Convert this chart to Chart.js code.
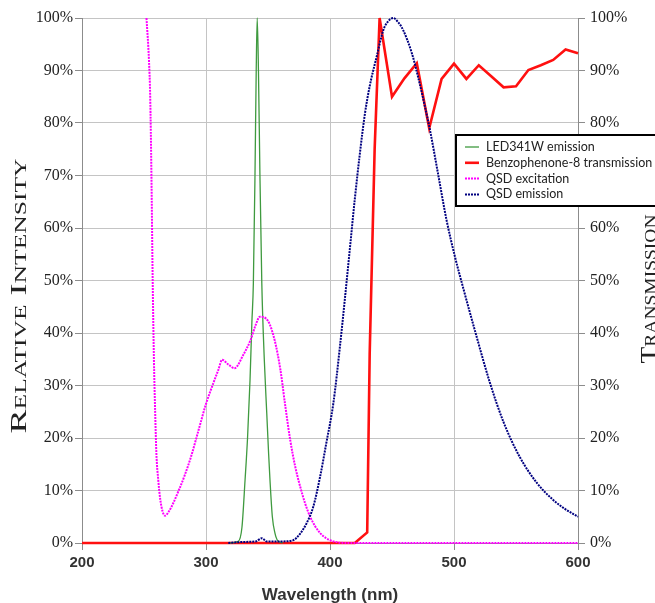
<!DOCTYPE html>
<html>
<head>
<meta charset="utf-8">
<script src="https://cdn.jsdelivr.net/npm/chart.js@4.4.0/dist/chart.umd.min.js"></script>
<style>
  body { margin: 0; background: #fff; }
  canvas { display: block; }
</style>
</head>
<body>
<canvas id="spectra" width="655" height="603"></canvas>
<script>
// LED341W emission (nm, % relative intensity)
const ledNm = [319, 326, 329, 331.5, 333.5, 335.5, 337, 338.2, 339.5, 340.5, 341.3, 342.3, 343.5, 345, 347, 349, 350.5, 351.6, 353.5, 355.6, 358, 362];
const ledPct = [0, 0.3, 3, 12, 20, 31, 42, 49.5, 70, 90, 100, 90, 70, 49.5, 35, 24.7, 17, 12, 5, 1.9, 0.4, 0];

// Benzophenone-8 transmission (nm, % transmission)
const bzpNm = [200, 420, 430, 432, 436, 440, 450, 460, 470, 480, 490, 500, 510, 520, 530, 540, 550, 560, 570, 580, 590, 600];
const bzpPct = [0, 0, 2, 36, 75, 100, 85, 88.5, 91.4, 79, 88.4, 91.3, 88.4, 91, 88.9, 86.8, 87, 90.1, 91, 92, 94, 93.3];

// QSD excitation
const excNm = [252, 254, 255, 256, 257, 258, 259, 260, 261.5, 263, 265, 267, 270, 274, 278, 283, 288, 294, 300, 306, 310, 313, 318, 323, 330, 336, 340, 343.5, 350, 355.5, 360, 364, 368, 372, 376, 380, 384, 388, 392, 397, 403, 413, 600];
const excPct = [100, 92, 85, 70, 50, 35, 25, 17, 12, 8.5, 6, 5.2, 6, 7.8, 10, 13, 16.5, 21.5, 26.5, 30.5, 33, 34.9, 34, 33.3, 35.8, 38.7, 41.5, 43.1, 42.3, 38.5, 33, 26, 19.5, 14.5, 10.7, 7.5, 5, 3.2, 1.9, 0.9, 0.3, 0, 0];

// QSD emission
const emNm = [318, 330, 340, 345, 349, 360, 370, 376, 381, 386.5, 392, 397, 402.7, 408, 412, 416, 420, 424, 428, 432, 437.6, 443, 447, 451, 455, 459, 466, 471, 476.6, 480.6, 487, 494, 500.8, 507.5, 518, 529, 540, 553, 567, 580, 590, 600];
const emPct = [0, 0.2, 0.3, 0.9, 0.3, 0.3, 0.5, 1.8, 3.7, 6.9, 12.6, 19, 26.6, 37.4, 46.5, 56, 65.5, 74, 81.5, 87, 92.6, 97.7, 99.4, 100, 99.2, 97.7, 93.3, 88.8, 83.1, 78.7, 70.5, 61.5, 54.5, 48.5, 39.5, 30.5, 23, 16.4, 11.4, 8.2, 6.4, 5];

const yTicks = [0, 10, 20, 30, 40, 50, 60, 70, 80, 90, 100];

function pairs(xs, ys) {
  return xs.map((x, i) => ({ x: x, y: ys[i] }));
}

// rotated small-caps titles on both sides, stretched to the length of the axis label
function sideTitle(ctx, text, baseX, midY, span) {
  ctx.save();
  ctx.font = 'small-caps 24px "Liberation Serif"';
  const w = ctx.measureText(text).width;
  ctx.translate(baseX, midY);
  ctx.rotate(-Math.PI / 2);
  ctx.scale(span / w, 1);
  ctx.textAlign = 'center';
  ctx.textBaseline = 'alphabetic';
  ctx.fillStyle = '#222';
  ctx.fillText(text, 0, 0);
  ctx.restore();
}

const sideTitles = {
  id: 'sideTitles',
  afterDraw(chart) {
    sideTitle(chart.ctx, 'Relative Intensity', 26, 296, 275);
    sideTitle(chart.ctx, 'Transmission', 656, 289, 149);
  }
};

// boxed legend sitting over the right axis
const boxLegend = {
  id: 'boxLegend',
  afterDraw(chart) {
    const ctx = chart.ctx;
    ctx.save();
    ctx.fillStyle = '#fff';
    ctx.fillRect(456, 135, 210, 71);
    ctx.strokeStyle = '#000';
    ctx.lineWidth = 2;
    ctx.strokeRect(456, 135, 210, 71);
    ctx.font = '12.5px Lato';
    ctx.textBaseline = 'middle';
    chart.data.datasets.forEach((ds, i) => {
      const y = 147 + i * 15.8;
      ctx.beginPath();
      ctx.strokeStyle = ds.borderColor;
      ctx.lineWidth = ds.borderWidth;
      ctx.setLineDash(ds.borderDash || []);
      ctx.moveTo(465, y);
      ctx.lineTo(479, y);
      ctx.stroke();
      ctx.setLineDash([]);
      ctx.fillStyle = '#222';
      ctx.fillText(ds.label, 486, y);
    });
    ctx.restore();
  }
};

const gridColor = '#c4c4c4';
const axisColor = '#8c8c8c';

new Chart(document.getElementById('spectra'), {
  type: 'line',
  data: {
    datasets: [
      { label: 'LED341W emission', data: pairs(ledNm, ledPct), borderColor: '#3f9a3f', borderWidth: 1.3,
        yAxisID: 'y', order: 3, cubicInterpolationMode: 'monotone' },
      { label: 'Benzophenone-8 transmission', data: pairs(bzpNm, bzpPct), borderColor: '#ff1010', borderWidth: 2.6,
        yAxisID: 'y2', order: 4, tension: 0 },
      { label: 'QSD excitation', data: pairs(excNm, excPct), borderColor: '#ff00ff', borderWidth: 2,
        borderDash: [2, 1], yAxisID: 'y', order: 2, cubicInterpolationMode: 'monotone' },
      { label: 'QSD emission', data: pairs(emNm, emPct), borderColor: '#000080', borderWidth: 2,
        borderDash: [2, 1], yAxisID: 'y', order: 1, cubicInterpolationMode: 'monotone' }
    ]
  },
  options: {
    responsive: false,
    animation: false,
    layout: { padding: { top: 18, left: 0, right: 0, bottom: 0 } },
    elements: { point: { radius: 0 }, line: { borderCapStyle: 'butt' } },
    datasets: { line: { clip: 4 } },
    plugins: { legend: { display: false }, tooltip: { enabled: false } },
    scales: {
      x: {
        type: 'linear', min: 200, max: 600,
        afterFit: s => { s.height = 60; },
        ticks: { stepSize: 100, padding: 4, color: '#333',
          font: { family: 'Liberation Sans', weight: 'bold', size: 15 } },
        grid: { color: gridColor, tickLength: 7, tickColor: axisColor },
        border: { color: axisColor },
        title: { display: true, text: 'Wavelength (nm)', color: '#333', padding: { top: 4, bottom: -3 },
          font: { family: 'Liberation Sans', weight: 'bold', size: 17 } }
      },
      y: {
        position: 'left', min: 0, max: 100,
        afterFit: s => { s.width = 82; },
        afterBuildTicks: s => { s.ticks = yTicks.map(v => ({ value: v })); },
        ticks: { padding: 2, color: '#222', callback: v => v + '%',
          font: { family: 'Liberation Serif', size: 16 } },
        grid: { color: gridColor, tickLength: 7, tickColor: axisColor },
        border: { color: axisColor }
      },
      y2: {
        position: 'right', min: 0, max: 100,
        afterFit: s => { s.width = 77; },
        afterBuildTicks: s => { s.ticks = yTicks.map(v => ({ value: v })); },
        ticks: { padding: 5, color: '#222', callback: v => v + '%',
          font: { family: 'Liberation Serif', size: 16 } },
        grid: { drawOnChartArea: false, tickLength: 7, tickColor: axisColor },
        border: { color: axisColor }
      }
    }
  },
  plugins: [sideTitles, boxLegend]
});
</script>
</body>
</html>
